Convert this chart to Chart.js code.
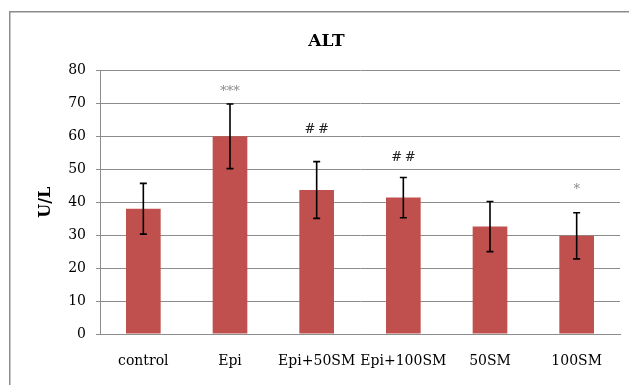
<!DOCTYPE html>
<html>
<head>
<meta charset="utf-8">
<script src="https://cdn.jsdelivr.net/npm/chart.js@4/dist/chart.umd.min.js"></script>
<style>
  html, body { margin: 0; padding: 0; background: #fff; }
  #c { display: block; }
</style>
</head>
<body>
<canvas id="c" width="629" height="385" style="width:629px;height:385px"></canvas>
<script>
// ---- data ----
const categories = ['control', 'Epi', 'Epi+50SM', 'Epi+100SM', '50SM', '100SM'];
const means      = [38.0, 60.0, 43.7, 41.4, 32.6, 29.8];
const errors     = [7.7, 9.8, 8.6, 6.1, 7.6, 7.0];
const marks      = ['', '***', '##', '##', '', '*'];
const yMin = 0, yMax = 80, yStep = 10;

// ---- styles ----
const SERIF = '"DejaVu Serif", "Liberation Serif", serif';
const markOffsets = [0, 12, 32, 20, 0, 23];
const markColors  = ['#000', '#8a8a8a', '#222', '#222', '#000', '#8a8a8a'];

const frame = {
  id: 'frame',
  beforeDraw(chart) {
    const ctx = chart.ctx;
    ctx.save();
    ctx.fillStyle = '#fff';
    ctx.fillRect(0, 0, chart.width, chart.height);
    ctx.strokeStyle = '#8c8c8c';
    ctx.lineWidth = 1.5;
    ctx.strokeRect(9.75, 11.75, chart.width + 20, chart.height + 20);
    ctx.restore();
  }
};

const errorBars = {
  id: 'errorBars',
  afterDatasetsDraw(chart) {
    const ctx = chart.ctx;
    const xs = chart.scales.x, ys = chart.scales.y;
    ctx.save();
    ctx.strokeStyle = '#000';
    ctx.lineWidth = 1.6;
    means.forEach((m, i) => {
      const x = xs.getPixelForValue(i);
      const yt = ys.getPixelForValue(m + errors[i]);
      const yb = ys.getPixelForValue(m - errors[i]);
      ctx.beginPath();
      ctx.moveTo(x, yt); ctx.lineTo(x, yb);
      ctx.moveTo(x - 3.5, yt); ctx.lineTo(x + 3.5, yt);
      ctx.moveTo(x - 3.5, yb); ctx.lineTo(x + 3.5, yb);
      ctx.stroke();
      if (marks[i]) {
        ctx.fillStyle = markColors[i];
        ctx.font = '13px ' + SERIF;
        ctx.textAlign = 'center';
        ctx.textBaseline = 'middle';
        const label = marks[i].split('').join(marks[i][0] === '#' ? '\u2009' : '');
        ctx.fillText(label, x, yt - markOffsets[i]);
      }
    });
    ctx.restore();
  }
};

new Chart(document.getElementById('c'), {
  type: 'bar',
  data: {
    labels: categories,
    datasets: [{
      data: means,
      backgroundColor: '#C0504D',
      borderWidth: 0,
      categoryPercentage: 1.0,
      barPercentage: 0.4
    }]
  },
  options: {
    responsive: false,
    animation: false,
    devicePixelRatio: 1,
    layout: { padding: { left: 33, right: 9, top: 0, bottom: 0 } },
    plugins: {
      legend: { display: false },
      tooltip: { enabled: false },
      title: {
        display: true,
        text: 'ALT',
        color: '#000',
        font: { family: SERIF, size: 17, weight: 'bold' },
        padding: { top: 31, bottom: 19 }
      }
    },
    scales: {
      x: {
        afterFit(s) { s.height = 51; },
        grid: { display: true, drawOnChartArea: false, drawTicks: false },
        border: { display: true, color: '#8c8c8c', width: 1 },
        ticks: { color: '#000', font: { family: SERIF, size: 14 }, padding: 19, maxRotation: 0, autoSkip: false }
      },
      y: {
        min: yMin, max: yMax,
        afterFit(s) { s.width = 67; },
        grid: { color: '#8c8c8c', lineWidth: 1, tickLength: 4 },
        border: { display: true, color: '#8c8c8c', width: 1 },
        ticks: { stepSize: yStep, color: '#000', font: { family: SERIF, size: 14 }, padding: 10 },
        title: {
          display: true,
          text: 'U/L',
          color: '#000',
          font: { family: SERIF, size: 16, weight: 'bold' },
          padding: { top: 3, bottom: 0 }
        }
      }
    }
  },
  plugins: [frame, errorBars]
});
</script>
</body>
</html>
